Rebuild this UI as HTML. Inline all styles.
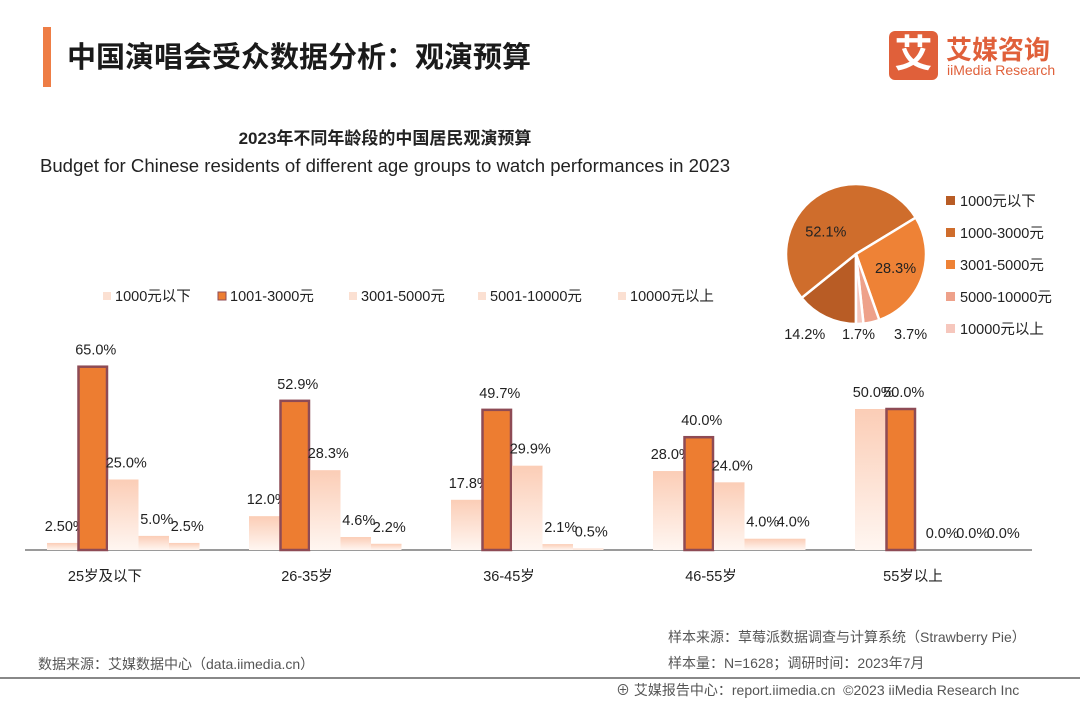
<!DOCTYPE html>
<html><head><meta charset="utf-8">
<style>
body{margin:0;background:#fff;}
#wrap{position:relative;width:1080px;height:702px;overflow:hidden;font-family:"Liberation Sans","Noto Sans CJK SC",sans-serif;color:#222;}
.abs{position:absolute;white-space:nowrap;}
</style></head>
<body>
<div id="wrap">
  <div class="abs" style="left:43px;top:27px;width:8px;height:60px;background:#ee7d45;"></div>
  <div class="abs" style="left:67px;top:34px;font-size:29px;font-weight:bold;color:#1a1a1a;">中国演唱会受众数据分析：观演预算</div>
  <div class="abs" style="left:889px;top:31px;width:49px;height:49px;background:#e0603a;border-radius:6px;color:#fff;font-size:38px;font-weight:bold;text-align:center;line-height:49px;">艾</div>
  <div class="abs" style="left:946px;top:30px;font-size:26px;font-weight:bold;color:#e0603a;">艾媒咨询</div>
  <div class="abs" style="left:947px;top:62px;font-size:14px;color:#e0603a;">iiMedia Research</div>

  <div class="abs" style="left:0;width:770px;text-align:center;top:124px;font-size:17px;font-weight:bold;">2023年不同年龄段的中国居民观演预算</div>
  <div class="abs" style="left:0;width:770px;text-align:center;top:155px;font-size:18.6px;">Budget for Chinese residents of different age groups to watch performances in 2023</div>

  <svg id="chart" class="abs" style="left:0;top:0" width="1080" height="702"></svg>

  <div class="abs" style="left:38px;top:654px;font-size:14px;color:#555;">数据来源：艾媒数据中心（data.iimedia.cn）</div>
  <div class="abs" style="left:668px;top:627px;font-size:14px;color:#555;">样本来源：草莓派数据调查与计算系统（Strawberry Pie）</div>
  <div class="abs" style="left:668px;top:653px;font-size:14px;color:#555;">样本量：N=1628；调研时间：2023年7月</div>
  <div class="abs" style="left:0;top:677px;width:1080px;height:2px;background:#888;"></div>
  <div class="abs" style="left:616px;top:680px;font-size:14px;color:#555;">⊕ 艾媒报告中心：report.iimedia.cn &nbsp;©2023 iiMedia Research Inc</div>
</div>
<script>
const categories = ["25岁及以下","26-35岁","36-45岁","46-55岁","55岁以上"];
const seriesNames = ["1000元以下","1001-3000元","3001-5000元","5001-10000元","10000元以上"];
const s1 = [2.5,12.0,17.8,28.0,50.0];
const s2 = [65.0,52.9,49.7,40.0,50.0];
const s3 = [25.0,28.3,29.9,24.0,0.0];
const s4 = [5.0,4.6,2.1,4.0,0.0];
const s5 = [2.5,2.2,0.5,4.0,0.0];
const labels1 = ["2.50%","12.0%","17.8%","28.0%","50.0%"];
const pieNames = ["1000元以下","1000-3000元","3001-5000元","5000-10000元","10000元以上"];
const pieValues = [14.2,52.1,28.3,3.7,1.7];

const NS="http://www.w3.org/2000/svg";
const svg=document.getElementById('chart');
function mk(t,a){const e=document.createElementNS(NS,t);for(const k in a)e.setAttribute(k,a[k]);svg.appendChild(e);return e;}
const defs=mk('defs',{});
defs.innerHTML='<linearGradient id="lg" x1="0" y1="0" x2="0" y2="1"><stop offset="0" stop-color="#fbcdb6"/><stop offset="1" stop-color="#fff6f1"/></linearGradient>';

const baseY=550, scale=2.82, groupX0=47, groupStep=202, barW=30.5;
function yOf(v){return baseY - v*scale;}
function xOf(g,s){return groupX0 + g*groupStep + s*barW;}

const axis=mk('line',{x1:25,x2:1032,y1:baseY,y2:baseY,stroke:'#9a9a9a','stroke-width':2});



const series=[s1,s2,s3,s4,s5];
series.forEach((arr,si)=>{
  arr.forEach((v,gi)=>{
    const x=xOf(gi,si), y=yOf(v), h=baseY-y;
    let r;
    if(si===1){
      r=mk('rect',{x:x+1,y:y,width:barW-2,height:h,fill:'#ed7d31',stroke:'#8e4b55','stroke-width':2.5});
    } else {
      r=mk('rect',{x:x,y:y,width:barW,height:h,fill:'url(#lg)'});
    }
    
    
    const txt = si===0 ? labels1[gi] : v.toFixed(1)+'%';
    const lx = x+barW/2+3 + (v===0 ? 8 : 0);
    const t=mk('text',{x:lx,y:y-12,'text-anchor':'middle','font-size':14.5,fill:'#222'});
    t.textContent=txt;
    
    
  });
});
categories.forEach((c,gi)=>{
  const t=mk('text',{x:xOf(gi,0)+58,y:581,'text-anchor':'middle','font-size':14.5,fill:'#222'});
  t.textContent=c;
  
  
});
const legX=[103,218,349,478,618];
const legColors=['#fbe0d2','#ed7d31','#fbe0d2','#fbe0d2','#fbe0d2'];
seriesNames.forEach((n,i)=>{
  const r=mk('rect',{x:legX[i],y:292,width:8,height:8,fill:legColors[i],stroke:i===1?'#8e4b55':'none','stroke-width':1});
  
  
  const t=mk('text',{x:legX[i]+12,y:301,'font-size':14.5,fill:'#222'});
  t.textContent=n;
  
  
});
const cx=856, cy=254, R=70;
const pieColors=['#b85c25','#cf6d2c','#ee8236','#eea18a','#f6c7bd'];
const pieLabelShift=[[-5,2],[-6,12],[0,0],[6,3],[0,-2]];
const total=pieValues.reduce((a,b)=>a+b,0);
let ang=Math.PI;
function pt(a,r){return [cx+Math.sin(a)*r, cy-Math.cos(a)*r];}
pieValues.forEach((v,i)=>{
  const da=v/total*2*Math.PI, a0=ang, a1=ang+da;
  const p0=pt(a0,R), p1=pt(a1,R);
  const p=mk('path',{d:`M${cx},${cy} L${p0[0]},${p0[1]} A${R},${R} 0 ${da>Math.PI?1:0} 1 ${p1[0]},${p1[1]} Z`,fill:pieColors[i],stroke:'#fff','stroke-width':2.5});
  
  
  const mid=(a0+a1)/2;
  const inside=v>20;
  let lp=pt(mid, inside?R*0.6:R*1.2);
  if(!inside){ if(i===3) lp=[lp[0]+30,lp[1]-5]; if(i===4) lp=[lp[0]-2,lp[1]-2]; if(i===0) lp=[lp[0]-10,lp[1]+2]; }
  lp=[lp[0]+pieLabelShift[i][0], lp[1]+pieLabelShift[i][1]];
  const t=mk('text',{x:lp[0],y:lp[1]+5,'text-anchor':'middle','font-size':14.5,fill:'#222'});
  t.textContent=v.toFixed(1)+'%';
  
  
  ang=a1;
});
pieNames.forEach((n,i)=>{
  const y=201+i*32;
  const r=mk('rect',{x:946,y:y-5,width:9,height:9,fill:pieColors[i]});
  
  
  const t=mk('text',{x:960,y:y+5,'font-size':14.5,fill:'#222'});
  t.textContent=n;
  
  
});
</script>
</body></html>
